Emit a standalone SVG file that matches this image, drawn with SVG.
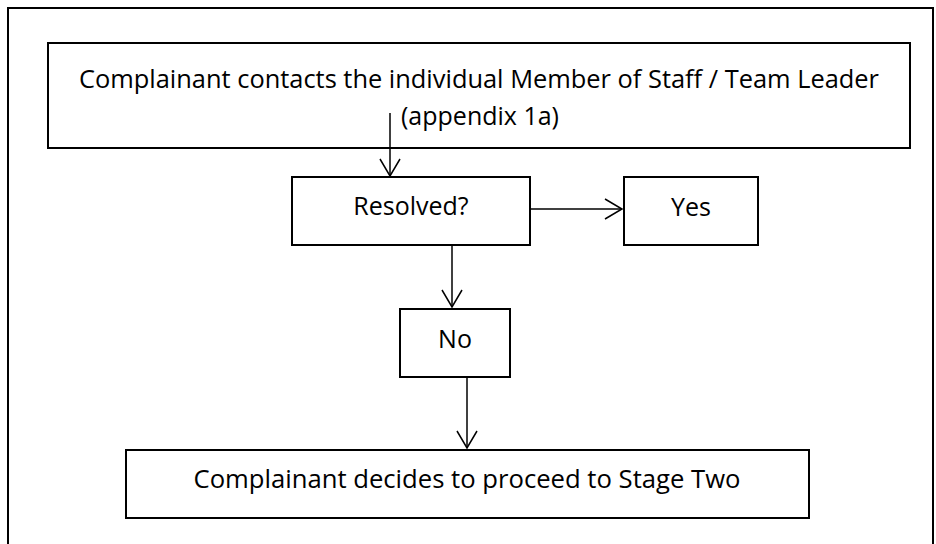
<svg xmlns="http://www.w3.org/2000/svg" width="936" height="544" viewBox="0 0 936 544">
  <style>
    .box { fill: #ffffff; stroke: #000000; stroke-width: 2; }
    .frame { fill: none; stroke: #000000; stroke-width: 2; }
    .conn { fill: none; stroke: #000000; stroke-width: 1.5; }
    .lbl { font-family: "Open Sans", "Liberation Sans", sans-serif; font-size: 25px; fill: #000000; text-anchor: middle; }
  </style>
  <defs>
    <marker id="arrow" viewBox="0 0 20 20" refX="17" refY="10" markerWidth="20" markerHeight="20" markerUnits="userSpaceOnUse" orient="auto" overflow="visible">
      <path d="M0,0 L17,10 L0,20" fill="none" stroke="#000000" stroke-width="1.5"/>
    </marker>
  </defs>
  <rect width="936" height="544" fill="#ffffff"/>
  <rect class="frame" x="8" y="8" width="925" height="560"/>

  <g id="node-contact">
    <rect class="box" x="48" y="43" width="862" height="105"/>
    <text class="lbl" x="479" y="88" textLength="800" lengthAdjust="spacingAndGlyphs">Complainant contacts the individual Member of Staff / Team Leader</text>
    <text class="lbl" x="480" y="125">(appendix 1a)</text>
  </g>

  <g id="node-resolved">
    <rect class="box" x="292" y="177" width="238" height="68"/>
    <text class="lbl" x="411" y="215">Resolved?</text>
  </g>

  <g id="node-yes">
    <rect class="box" x="624" y="177" width="134" height="68"/>
    <text class="lbl" x="691" y="216">Yes</text>
  </g>

  <g id="node-no">
    <rect class="box" x="400" y="309" width="110" height="68"/>
    <text class="lbl" x="455" y="348">No</text>
  </g>

  <g id="node-stage-two">
    <rect class="box" x="126" y="450" width="683" height="68"/>
    <text class="lbl" x="467" y="488" textLength="547" lengthAdjust="spacingAndGlyphs">Complainant decides to proceed to Stage Two</text>
  </g>

  <g id="connectors">
    <line class="conn" x1="390" y1="113" x2="390" y2="176" marker-end="url(#arrow)"/>
    <line class="conn" x1="531" y1="209" x2="622" y2="209" marker-end="url(#arrow)"/>
    <line class="conn" x1="452" y1="246" x2="452" y2="307" marker-end="url(#arrow)"/>
    <line class="conn" x1="467" y1="378" x2="467" y2="448" marker-end="url(#arrow)"/>
  </g>
</svg>
